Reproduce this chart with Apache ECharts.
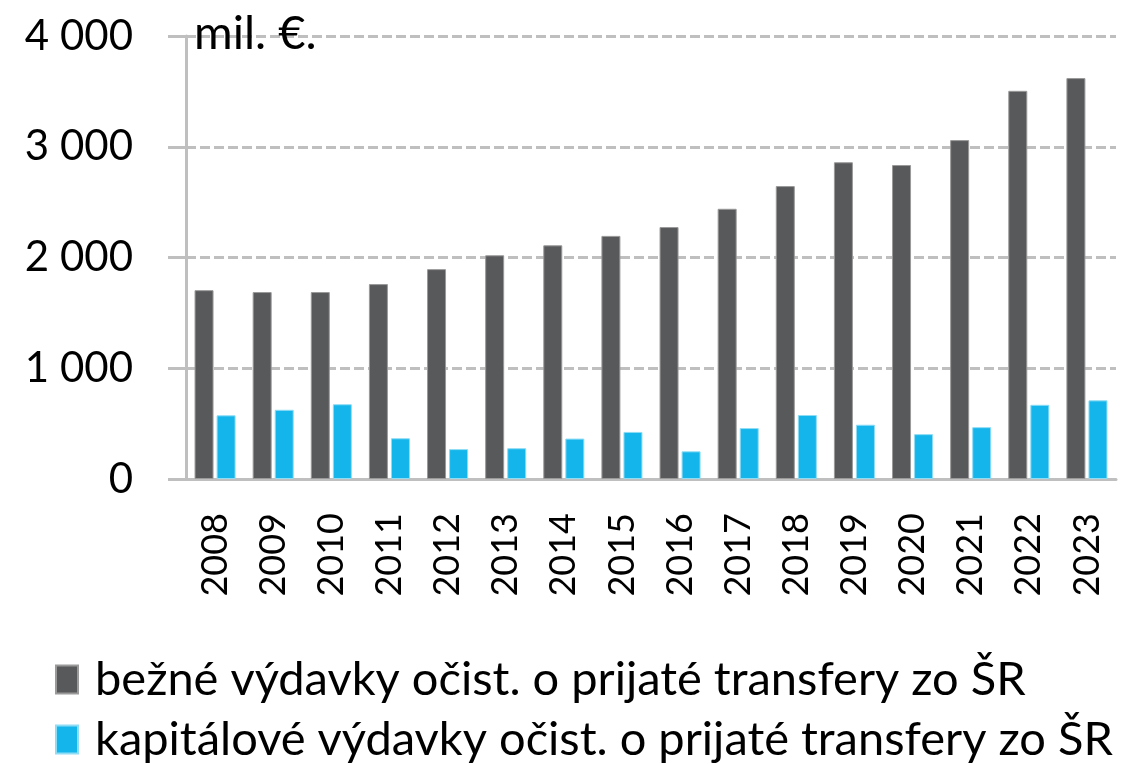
<!DOCTYPE html>
<html>
<head>
<meta charset="utf-8">
<script src="https://cdn.jsdelivr.net/npm/echarts@6/dist/echarts.min.js"></script>
<style>
  html, body { margin: 0; padding: 0; background: #fff; }
  #chart { width: 1142px; height: 764px; }
</style>
</head>
<body>
<div id="chart"></div>
<script>
// roky
var years = ['2008', '2009', '2010', '2011', '2012', '2013', '2014', '2015',
             '2016', '2017', '2018', '2019', '2020', '2021', '2022', '2023'];
// bežné výdavky (mil. €)
var bezne = [1705, 1688, 1688, 1760, 1895, 2020, 2110, 2195,
             2275, 2440, 2645, 2860, 2835, 3060, 3505, 3620];
// kapitálové výdavky (mil. €)
var kapitalove = [575, 625, 675, 368, 270, 278, 365, 425,
                  250, 460, 578, 490, 405, 468, 670, 710];
var seriesNames = ['bežné výdavky očist. o prijaté transfery zo ŠR',
                   'kapitálové výdavky očist. o prijaté transfery zo ŠR'];

var FONT = 'Lato';
// jedna legenda na riadok
function legendRow(name, top) {
  return {
    left: 50, top: top,
    itemWidth: 22, itemHeight: 28,
    icon: 'rect',
    data: [name],
    textStyle: { fontFamily: FONT, fontSize: 47, color: '#000', padding: [0, 0, 0, 12] }
  };
}

var chart = echarts.init(document.getElementById('chart'));
chart.setOption({
  animation: false,
  textStyle: { fontFamily: FONT },
  title: {
    text: 'mil. €.',
    left: 189, top: 5,
    textStyle: { fontFamily: FONT, fontSize: 47, fontWeight: 'normal', color: '#000' }
  },
  legend: [legendRow(seriesNames[0], 651), legendRow(seriesNames[1], 711)],
  grid: { left: 186, right: 26, top: 36, bottom: 285, containLabel: false },
  xAxis: {
    type: 'category',
    data: years,
    axisLine: { lineStyle: { color: '#bfbfbf', width: 3 } },
    axisTick: { show: false },
    axisLabel: { rotate: 90, margin: 34, fontSize: 36, color: '#000', fontFamily: FONT, interval: 0 }
  },
  yAxis: {
    type: 'value',
    min: 0, max: 4000, interval: 1000,
    axisLine: { show: true, lineStyle: { color: '#bfbfbf', width: 3 } },
    axisTick: { show: true, length: 18, lineStyle: { color: '#bfbfbf', width: 3 } },
    axisLabel: {
      margin: 53, fontSize: 42, color: '#000', fontFamily: FONT,
      formatter: function (v) { return String(v).replace(/\B(?=(\d{3})+(?!\d))/g, ' '); }
    },
    splitLine: { lineStyle: { color: '#bfbfbf', width: 3, type: [10, 4] } }
  },
  series: [
    {
      name: seriesNames[0], type: 'bar', data: bezne,
      barWidth: 19, barGap: '16%',
      itemStyle: { color: '#58595b', borderColor: '#9a9a9a', borderWidth: 1 }
    },
    {
      name: seriesNames[1], type: 'bar', data: kapitalove,
      barWidth: 19,
      itemStyle: { color: '#13b5ea', borderColor: '#8fdcf5', borderWidth: 1 }
    }
  ]
});
</script>
</body>
</html>
